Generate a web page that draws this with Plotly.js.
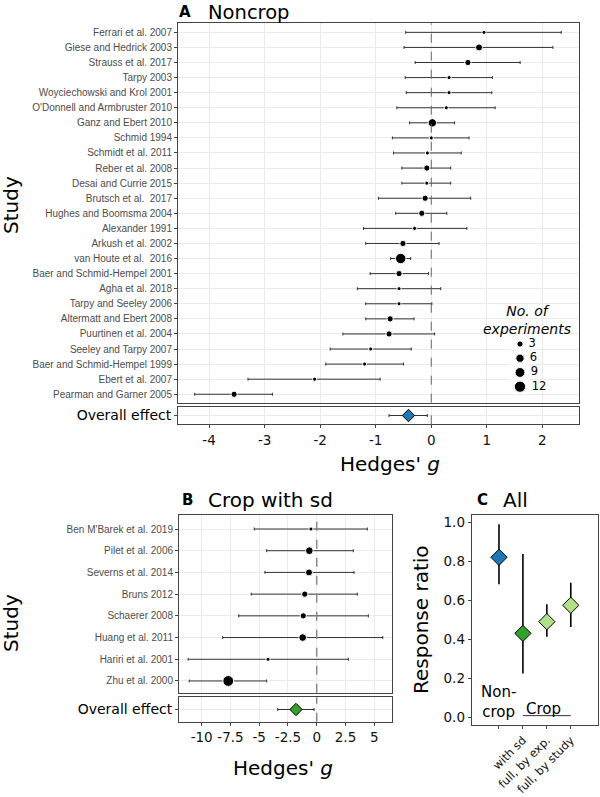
<!DOCTYPE html>
<html><head><meta charset="utf-8">
<script src="https://cdn.plot.ly/plotly-3.0.1.min.js"></script>
<style>body{margin:0;padding:0;background:#fff}#chart{width:600px;height:797px}</style>
</head><body><div id="chart"></div>
<script>
// ---------- Panel A: Noncrop ----------
const studiesA = ["Ferrari et al. 2007","Giese and Hedrick 2003","Strauss et al. 2017","Tarpy 2003",
  "Woyciechowski and Krol 2001","O'Donnell and Armbruster 2010","Ganz and Ebert 2010","Schmid 1994",
  "Schmidt et al. 2011","Reber et al. 2008","Desai and Currie 2015","Brutsch et al.  2017",
  "Hughes and Boomsma 2004","Alexander 1991","Arkush et al. 2002","van Houte et al.  2016",
  "Baer and Schmid-Hempel 2001","Agha et al. 2018","Tarpy and Seeley 2006","Altermatt and Ebert 2008",
  "Puurtinen et al. 2004","Seeley and Tarpy 2007","Baer and Schmid-Hempel 1999","Ebert et al. 2007",
  "Pearman and Garner 2005"];
const estA  = [0.95,0.86,0.66,0.32,0.32,0.27,0.02,0.00,-0.07,-0.08,-0.08,-0.11,-0.17,-0.30,-0.51,-0.55,-0.58,-0.58,-0.58,-0.74,-0.76,-1.09,-1.20,-2.10,-3.55];
const lowA  = [-0.46,-0.49,-0.29,-0.47,-0.45,-0.62,-0.39,-0.70,-0.68,-0.53,-0.53,-0.95,-0.64,-1.22,-1.18,-0.73,-1.10,-1.33,-1.18,-1.18,-1.59,-1.82,-1.90,-3.30,-4.26];
const highA = [2.34,2.19,1.60,1.10,1.09,1.15,0.42,0.68,0.54,0.35,0.35,0.71,0.28,0.64,0.14,-0.37,-0.05,0.17,0.01,-0.31,0.06,-0.36,-0.50,-0.92,-2.86];
const nExpA = [1,4,3,1,1,1,6,1,1,3,1,3,3,1,3,10,3,1,1,3,3,1,1,1,3];
const overallLabel = ["Overall effect"];
const overallEstA = [-0.41], overallLowA = [-0.76], overallHighA = [-0.07];
const ticksA = [-4,-3,-2,-1,0,1,2];

// ---------- Panel B: Crop with sd ----------
const studiesB = ["Ben M'Barek et al. 2019","Pilet et al. 2006","Severns et al. 2014","Bruns 2012",
  "Schaerer 2008","Huang et al. 2011","Hariri et al. 2001","Zhu et al. 2000"];
const estB  = [-0.50,-0.64,-0.67,-1.04,-1.17,-1.22,-4.23,-7.69];
const lowB  = [-5.43,-4.35,-4.50,-5.69,-6.78,-8.17,-11.17,-11.08];
const highB = [4.40,3.18,3.24,3.53,4.49,5.74,2.75,-4.35];
const nExpB = [1,5,4,3,3,5,1,11];
const overallEstB = [-1.80], overallLowB = [-3.39], overallHighB = [-0.23];
const ticksB = [-10,-7.5,-5,-2.5,0,2.5,5];

// ---------- Panel C: All ----------
const groupsC = ["Noncrop","with sd","full, by exp.","full, by study"];
const tickTextC = ["","with sd","full, by exp.","full, by study"];
const rrC   = [0.82,0.43,0.49,0.574];
const lowC  = [0.682,0.224,0.413,0.463];
const highC = [0.99,0.837,0.579,0.69];
const colorsC = ["#1f78b4","#33a02c","#b2df8a","#b2df8a"];
const ticksC = [0,0.2,0.4,0.6,0.8,1.0];

// ---------- Legend ----------
const legendN = [3,6,9,12];

// helpers
const dia = n => 1.2 + 2.9*Math.sqrt(n);
const plus = (e,h) => e.map((v,i)=>h[i]-v);
const minus = (e,l) => e.map((v,i)=>v-l[i]);
const PX_W = 600, PX_H = 797;
const fx = px => px/PX_W;
const fy = py => 1 - py/PX_H;
const F = "DejaVu Sans, Verdana, sans-serif";
const errStyle = {thickness:1, width:1.5, color:"#333"};

const traces = [
  {type:"scatter", mode:"markers", x:estA, y:studiesA, xaxis:"x", yaxis:"y",
   marker:{size:nExpA.map(dia), color:"#000", opacity:1},
   error_x:Object.assign({type:"data", symmetric:false, array:plus(estA,highA), arrayminus:minus(estA,lowA)}, errStyle)},
  {type:"scatter", mode:"markers", x:overallEstA, y:overallLabel, xaxis:"x2", yaxis:"y2",
   marker:{symbol:"diamond", size:9.5, color:"#1f78b4", opacity:1, line:{color:"#000", width:1}},
   error_x:Object.assign({type:"data", symmetric:false, array:plus(overallEstA,overallHighA), arrayminus:minus(overallEstA,overallLowA)}, errStyle)},
  {type:"scatter", mode:"markers", x:estB, y:studiesB, xaxis:"x3", yaxis:"y3",
   marker:{size:nExpB.map(dia), color:"#000", opacity:1},
   error_x:Object.assign({type:"data", symmetric:false, array:plus(estB,highB), arrayminus:minus(estB,lowB)}, errStyle)},
  {type:"scatter", mode:"markers", x:overallEstB, y:overallLabel, xaxis:"x4", yaxis:"y4",
   marker:{symbol:"diamond", size:9.5, color:"#33a02c", opacity:1, line:{color:"#000", width:1}},
   error_x:Object.assign({type:"data", symmetric:false, array:plus(overallEstB,overallHighB), arrayminus:minus(overallEstB,overallLowB)}, errStyle)},
  {type:"scatter", mode:"markers", x:groupsC, y:rrC, xaxis:"x5", yaxis:"y5",
   marker:{symbol:"diamond", size:12.5, color:colorsC, opacity:1, line:{color:"#000", width:1}},
   error_y:{type:"data", symmetric:false, array:plus(rrC,highC), arrayminus:minus(rrC,lowC), thickness:1.6, width:0, color:"#000"}},
  {type:"scatter", mode:"markers+text", x:legendN.map(()=>0), y:legendN.map(String), xaxis:"x6", yaxis:"y6",
   marker:{size:legendN.map(dia), color:"#000", opacity:1}, text:legendN.map(n=>"\u00a0"+n), textposition:"middle right",
   textfont:{family:F, size:11.5, color:"#000"}, cliponaxis:false}
];

const frame = {showline:true, mirror:true, linecolor:"#444", linewidth:1, zeroline:false};
const grid = {showgrid:true, gridcolor:"#ebebeb", gridwidth:1};
const tickOut = {ticks:"outside", ticklen:3, tickcolor:"#444", tickwidth:1};
const studyFont = {family:"Liberation Sans, Arial, sans-serif", size:10, color:"#4d4d4d"};
const numFont = {family:F, size:13.5, color:"#111"};
const zeroLine = {color:"#666", width:1, dash:"dash"};

const layout = {
  width:600, height:797, margin:{l:0,r:0,t:0,b:0}, showlegend:false,
  paper_bgcolor:"#fff", plot_bgcolor:"#fff", font:{family:F, color:"#000"},
  xaxis: Object.assign({domain:[fx(178),fx(579)], anchor:"y", range:[-4.56,2.66], tickvals:ticksA, showticklabels:false, ticks:""}, frame, grid),
  yaxis: Object.assign({domain:[fy(402.7),fy(23.3)], anchor:"x", type:"category", categoryorder:"array",
     categoryarray:studiesA.slice().reverse(), range:[-0.56,24.6], tickfont:studyFont}, frame, grid, tickOut),
  xaxis2: Object.assign({domain:[fx(178),fx(579)], anchor:"y2", range:[-4.56,2.66], tickvals:ticksA,
     ticktext:ticksA.map(String), tickfont:numFont}, frame, grid, tickOut),
  yaxis2: Object.assign({domain:[fy(424.3),fy(406.7)], anchor:"x2", type:"category", range:[-0.5,0.5],
     tickfont:{family:F, size:14, color:"#000"}}, frame, grid, tickOut),
  xaxis3: Object.assign({domain:[fx(179),fx(392.3)], anchor:"y3", range:[-11.97,6.57], tickvals:ticksB, showticklabels:false, ticks:""}, frame, grid),
  yaxis3: Object.assign({domain:[fy(692.7),fy(515)], anchor:"x3", type:"category", categoryorder:"array",
     categoryarray:studiesB.slice().reverse(), range:[-0.54,7.645], tickfont:studyFont}, frame, grid, tickOut),
  xaxis4: Object.assign({domain:[fx(179),fx(392.3)], anchor:"y4", range:[-11.97,6.57], tickvals:ticksB,
     ticktext:ticksB.map(String), tickfont:numFont}, frame, grid, tickOut),
  yaxis4: Object.assign({domain:[fy(721.7),fy(697.3)], anchor:"x4", type:"category", range:[-0.5,0.5],
     tickfont:{family:F, size:14, color:"#000"}}, frame, grid, tickOut),
  xaxis5: Object.assign({domain:[fx(471.7),fx(598.3)], anchor:"y5", type:"category", categoryorder:"array",
     categoryarray:groupsC, tickvals:groupsC, ticktext:tickTextC, tickangle:-45, range:[-1.14,4.15],
     tickfont:{family:F, size:11.5, color:"#111"}, showgrid:false}, frame, tickOut),
  yaxis5: Object.assign({domain:[fy(725),fy(515)], anchor:"x5", range:[-0.04,1.037], tickvals:ticksC,
     tickformat:".1f", tickfont:numFont, showgrid:false}, frame, tickOut),
  xaxis6: {domain:[fx(510),fx(530)], anchor:"y6", range:[-1,1], visible:false},
  yaxis6: {domain:[fy(393.8),fy(336.9)], anchor:"x6", type:"category", categoryorder:"array",
     categoryarray:legendN.map(String), range:[3.5,-0.5], visible:false},
  shapes: [
    {type:"line", xref:"x", yref:"y domain", x0:0, x1:0, y0:0, y1:1, layer:"above", line:zeroLine},
    {type:"line", xref:"x2", yref:"y2 domain", x0:0, x1:0, y0:0, y1:1, layer:"above", line:zeroLine},
    {type:"line", xref:"x3", yref:"y3 domain", x0:0, x1:0, y0:0, y1:1, layer:"above", line:{color:"#888", width:1.5, dash:"dash"}},
    {type:"line", xref:"x4", yref:"y4 domain", x0:0, x1:0, y0:0, y1:1, layer:"above", line:{color:"#888", width:1.5, dash:"dash"}},
    {type:"line", xref:"x5", yref:"y5", x0:1, x1:3, y0:0.008, y1:0.008, line:{color:"#333", width:1}}
  ],
  annotations: [
    {text:"<b>A</b>", xref:"paper", yref:"paper", x:fx(178), y:fy(11.5), xanchor:"left", yanchor:"middle", showarrow:false, borderpad:0, font:{family:F, size:15}},
    {text:"Noncrop", xref:"paper", yref:"paper", x:fx(207), y:fy(12.5), xanchor:"left", yanchor:"middle", showarrow:false, borderpad:0, font:{family:F, size:19.5}},
    {text:"Study", xref:"paper", yref:"paper", x:fx(11), y:fy(205), xanchor:"center", yanchor:"middle", textangle:-90, showarrow:false, borderpad:0, font:{family:F, size:20}},
    {text:"Hedges' <i>g</i>", xref:"paper", yref:"paper", x:fx(390), y:fy(464), xanchor:"center", yanchor:"middle", showarrow:false, borderpad:0, font:{family:F, size:20}},
    {text:"<i>No. of</i><br><i>experiments</i>", xref:"paper", yref:"paper", x:fx(527), y:fy(320), xanchor:"center", yanchor:"middle", showarrow:false, borderpad:0, font:{family:F, size:14}},
    {text:"<b>B</b>", xref:"paper", yref:"paper", x:fx(181), y:fy(500), xanchor:"left", yanchor:"middle", showarrow:false, borderpad:0, font:{family:F, size:15}},
    {text:"Crop with sd", xref:"paper", yref:"paper", x:fx(207), y:fy(500), xanchor:"left", yanchor:"middle", showarrow:false, borderpad:0, font:{family:F, size:20}},
    {text:"Study", xref:"paper", yref:"paper", x:fx(11), y:fy(623), xanchor:"center", yanchor:"middle", textangle:-90, showarrow:false, borderpad:0, font:{family:F, size:20}},
    {text:"Hedges' <i>g</i>", xref:"paper", yref:"paper", x:fx(282.5), y:fy(768), xanchor:"center", yanchor:"middle", showarrow:false, borderpad:0, font:{family:F, size:20}},
    {text:"<b>C</b>", xref:"paper", yref:"paper", x:fx(476), y:fy(500), xanchor:"left", yanchor:"middle", showarrow:false, borderpad:0, font:{family:F, size:15}},
    {text:"All", xref:"paper", yref:"paper", x:fx(502), y:fy(500), xanchor:"left", yanchor:"middle", showarrow:false, borderpad:0, font:{family:F, size:20}},
    {text:"Response ratio", xref:"paper", yref:"paper", x:fx(421), y:fy(620), xanchor:"center", yanchor:"middle", textangle:-90, showarrow:false, borderpad:0, font:{family:F, size:20}},
    {text:"Non-<br>crop", xref:"x5", yref:"paper", x:0, y:fy(702), xanchor:"center", yanchor:"middle", showarrow:false, borderpad:0, font:{family:F, size:15}},
    {text:"Crop", xref:"x5", yref:"paper", x:1.85, y:fy(708.5), xanchor:"center", yanchor:"middle", showarrow:false, borderpad:0, font:{family:F, size:15}}
  ]
};

Plotly.newPlot("chart", traces, layout, {staticPlot:true, displayModeBar:false});
</script>
</body></html>
